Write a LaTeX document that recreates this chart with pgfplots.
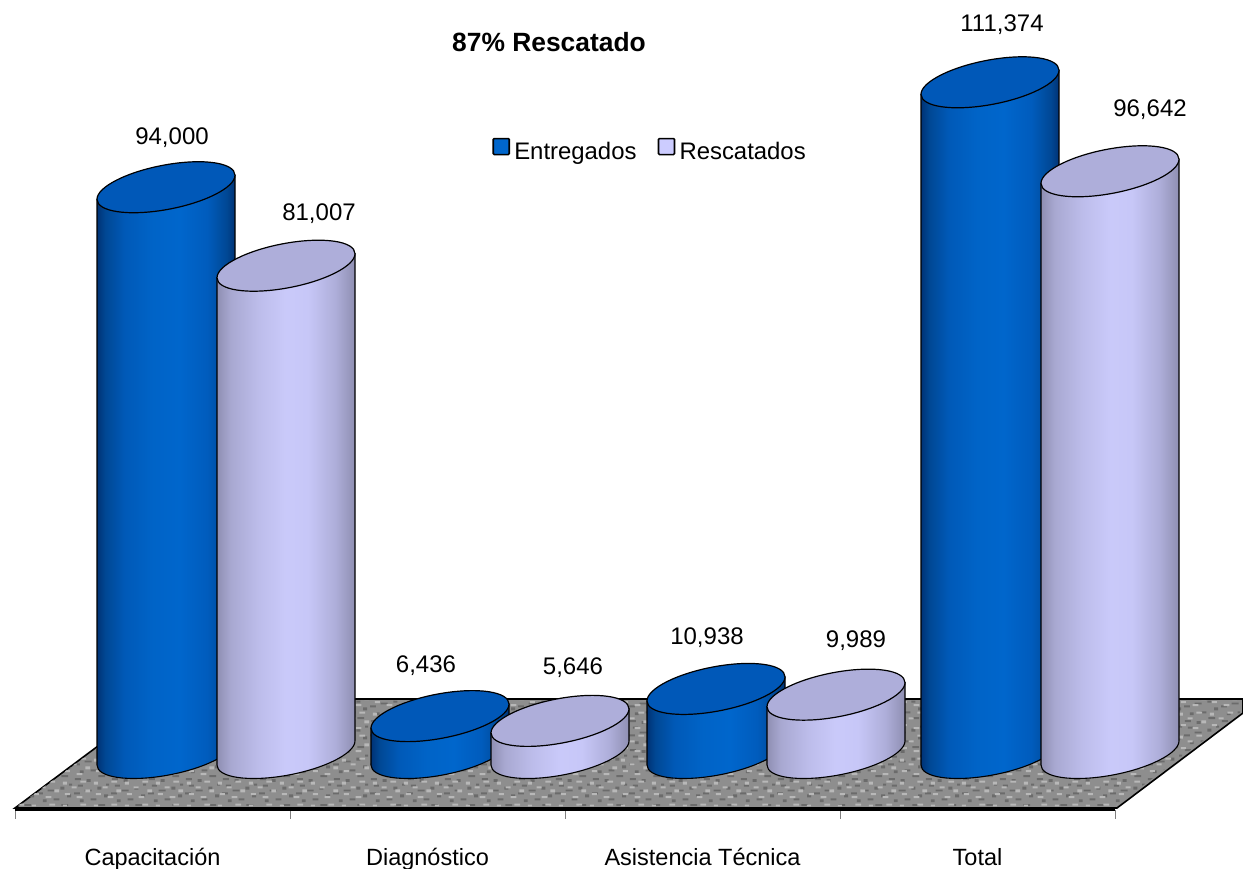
\documentclass[border=0pt]{standalone}
\usepackage{fontspec}
\setmainfont{Liberation Sans}
\usepackage{pgfplots}
\pgfplotsset{compat=1.18}
\usetikzlibrary{patterns}
\definecolor{capblue}{RGB}{0,88,184}
\definecolor{caplav}{RGB}{174,174,218}
\definecolor{keyblue}{RGB}{0,102,204}
\definecolor{keylav}{RGB}{204,204,255}
\pgfdeclarehorizontalshading{cylblue}{100bp}{rgb(0bp)=(0,0.20,0.46);rgb(25bp)=(0,0.20,0.46);rgb(28bp)=(0,0.28,0.58);rgb(35bp)=(0,0.35,0.72);rgb(45bp)=(0,0.39,0.78);rgb(55bp)=(0,0.40,0.80);rgb(65bp)=(0,0.36,0.74);rgb(72bp)=(0,0.28,0.58);rgb(75bp)=(0,0.20,0.46);rgb(100bp)=(0,0.20,0.46)}
\pgfdeclarehorizontalshading{cyllav}{100bp}{rgb(0bp)=(0.56,0.56,0.70);rgb(25bp)=(0.56,0.56,0.70);rgb(30bp)=(0.66,0.66,0.82);rgb(40bp)=(0.74,0.74,0.92);rgb(50bp)=(0.79,0.79,0.98);rgb(58bp)=(0.78,0.78,0.97);rgb(68bp)=(0.68,0.68,0.85);rgb(75bp)=(0.56,0.56,0.70);rgb(100bp)=(0.56,0.56,0.70)}
\pgfdeclarepatternformonly{granitedark}{\pgfpointorigin}{\pgfpoint{37pt}{29pt}}{\pgfpoint{37pt}{29pt}}{%
  \pgfpathrectangle{\pgfpoint{1pt}{2pt}}{\pgfpoint{6pt}{2pt}}
  \pgfpathrectangle{\pgfpoint{13pt}{0pt}}{\pgfpoint{4pt}{3pt}}
  \pgfpathrectangle{\pgfpoint{25pt}{5pt}}{\pgfpoint{7pt}{2pt}}
  \pgfpathrectangle{\pgfpoint{6pt}{9pt}}{\pgfpoint{4pt}{3pt}}
  \pgfpathrectangle{\pgfpoint{17pt}{11pt}}{\pgfpoint{6pt}{2pt}}
  \pgfpathrectangle{\pgfpoint{31pt}{14pt}}{\pgfpoint{4pt}{3pt}}
  \pgfpathrectangle{\pgfpoint{0pt}{17pt}}{\pgfpoint{6pt}{2pt}}
  \pgfpathrectangle{\pgfpoint{11pt}{20pt}}{\pgfpoint{7pt}{2pt}}
  \pgfpathrectangle{\pgfpoint{24pt}{22pt}}{\pgfpoint{4pt}{3pt}}
  \pgfpathrectangle{\pgfpoint{4pt}{25pt}}{\pgfpoint{5pt}{2pt}}
  \pgfpathrectangle{\pgfpoint{33pt}{26pt}}{\pgfpoint{3pt}{2pt}}
  \pgfusepath{fill}}
\pgfdeclarepatternformonly{granitelight}{\pgfpointorigin}{\pgfpoint{31pt}{23pt}}{\pgfpoint{31pt}{23pt}}{%
  \pgfpathrectangle{\pgfpoint{3pt}{5pt}}{\pgfpoint{5pt}{2pt}}
  \pgfpathrectangle{\pgfpoint{15pt}{2pt}}{\pgfpoint{6pt}{2pt}}
  \pgfpathrectangle{\pgfpoint{24pt}{8pt}}{\pgfpoint{5pt}{3pt}}
  \pgfpathrectangle{\pgfpoint{10pt}{12pt}}{\pgfpoint{5pt}{2pt}}
  \pgfpathrectangle{\pgfpoint{1pt}{16pt}}{\pgfpoint{4pt}{3pt}}
  \pgfpathrectangle{\pgfpoint{19pt}{18pt}}{\pgfpoint{6pt}{2pt}}
  \pgfusepath{fill}}
\pgfdeclareplotmark{cylnone}{}
\newcommand\cylinder[3]{% height in pt, side shading, cap colour
  \path[draw=black,line width=1.1pt,shading=#2]
    (-69pt,-12pt) -- ([yshift=2pt-#1 pt]-69pt,-12pt)
    .. controls ([yshift=2pt-#1 pt]-69pt,-24.43pt) and ([yshift=2pt-#1 pt]-38.1pt,-29.13pt) .. ([yshift=2pt-#1 pt]0pt,-22.5pt)
    .. controls ([yshift=2pt-#1 pt]38.1pt,-15.87pt) and ([yshift=2pt-#1 pt]69pt,-0.43pt) .. ([yshift=2pt-#1 pt]69pt,12pt)
    -- (69pt,12pt) -- cycle;
  \pgfscope
  \pgfsetlinewidth{1.2pt}\pgfsetstrokecolor{black}\pgfsetfillcolor{#3}%
  \pgfpathellipse{\pgfpointorigin}{\pgfpoint{69pt}{12pt}}{\pgfpoint{0pt}{22.5pt}}%
  \pgfusepath{fill,stroke}%
  \endpgfscope}
\newcommand\cylheight{\begingroup\pgfkeys{/pgf/fpu,/pgf/fpu/output format=fixed}\pgfmathparse{\val*0.00604}\global\let\hh\pgfmathresult\endgroup}
\pgfplotstableread{
x v dx dy
166 94000 6 50
440 6436 -14 50
716 10938 -9 51
990 111374 12 58
}\entregados
\pgfplotstableread{
x v dx dy
286 81007 33 52
560 5646 13 53
836 9989 20 54
1110 96642 40 62
}\rescatados
\pgfplotsset{
  cyl/.style n args={2}{
    forget plot,only marks,mark=cylnone,scatter,point meta=y,
    visualization depends on={\thisrow{v}\as\val},
    scatter/@pre marker code/.code={\cylheight\cylinder{\hh}{#1}{#2}\pgfscope},
    scatter/@post marker code/.code={\endpgfscope},
  },
  vlabel/.style={
    forget plot,only marks,mark=cylnone,point meta=y,
    visualization depends on={\thisrow{dx}\as\dx},
    visualization depends on={\thisrow{dy}\as\dy},
    nodes near coords={\pgfmathprintnumber[assume math mode=true,1000 sep={,},fixed,precision=0]{\pgfplotspointmeta}},
    every node near coord/.append style={anchor=center,text=black,font=\fontsize{24}{28}\selectfont,inner sep=0pt,xshift=\dx pt,yshift=\dy pt},
  },
}
\begin{document}
\begin{tikzpicture}
\path[use as bounding box] (0pt,0pt) rectangle (1243pt,869pt);
\begin{axis}[
  at={(15pt,59pt)},anchor=south west,
  scale only axis,width=1100pt,height=810pt,
  xmin=15,xmax=1115,ymin=-9106,ymax=125000,
  clip=false,
  axis x line=bottom,axis y line=none,
  axis line style={-,line width=1.8pt,black},
  xtick={152.5,427.5,702.5,977.5},
  xticklabels={Capacitación,Diagnóstico,Asistencia Técnica,Total},
  minor xtick={15,290,565,840,1115},
  major tick length=0pt,minor tick length=9pt,
  tick align=outside,
  every minor tick/.append style={line width=.8pt,gray},
  xticklabel style={anchor=base,yshift=-56pt,font=\fontsize{23.5}{28}\selectfont},
  legend columns=2,
  legend style={at={(axis cs:648.5,100100)},anchor=center,draw=none,fill=white,
    font=\fontsize{23.9}{28}\selectfont,inner xsep=20pt,inner ysep=12pt,
    /tikz/every even column/.append style={column sep=16pt}},
]
% floor
\addplot[forget plot,draw=black,line width=1.6pt,fill={rgb,255:red,142;green,142;blue,142}] coordinates {(15,-8775) (1117,-8775) (1243,6954) (1243,9272) (161,9272)} -- cycle;
\addplot[forget plot,draw=none,pattern=granitedark,pattern color=black!58] coordinates {(17,-8500) (1115,-8500) (1240,6954) (1240,9000) (162,9000)} -- cycle;
\addplot[forget plot,draw=none,pattern=granitelight,pattern color=black!28] coordinates {(17,-8500) (1115,-8500) (1240,6954) (1240,9000) (162,9000)} -- cycle;
% cylinders
\addplot[cyl={cylblue}{capblue}] table[x=x,y=v] {\entregados};
\addplot[cyl={cyllav}{caplav}] table[x=x,y=v] {\rescatados};
\addplot[vlabel] table[x=x,y=v] {\entregados};
\addplot[vlabel] table[x=x,y=v] {\rescatados};
% legend
\addlegendimage{legend image code/.code={\draw[black,line width=1.6pt,fill=keyblue,rounded corners=1pt] (4pt,-3pt) rectangle (20pt,13pt);\path[draw=none] (0pt,0pt) -- (23pt,0pt);}}
\addlegendentry{Entregados}
\addlegendimage{legend image code/.code={\draw[black,line width=1.6pt,fill=keylav,rounded corners=1pt] (4pt,-3pt) rectangle (20pt,13pt);\path[draw=none] (0pt,0pt) -- (23pt,0pt);}}
\addlegendentry{Rescatados}
\node[font=\bfseries\fontsize{26.4}{30}\selectfont,anchor=center] at (axis cs:549,118046) {87\% Rescatado};
\end{axis}
\end{tikzpicture}
\end{document}
